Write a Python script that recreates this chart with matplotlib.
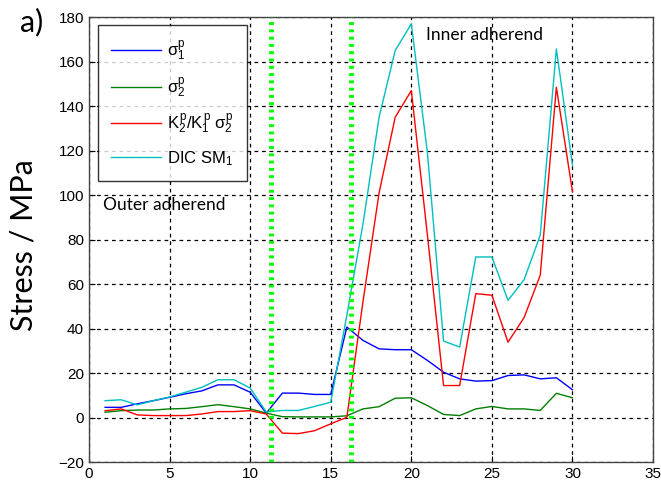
import numpy as np
import matplotlib
matplotlib.use("Agg")
import matplotlib.pyplot as plt

plt.rcParams['font.family'] = ['Liberation Sans', 'DejaVu Sans']
plt.rcParams['mathtext.fontset'] = 'custom'
plt.rcParams['mathtext.rm'] = 'Liberation Sans'
plt.rcParams['mathtext.it'] = 'Liberation Sans'
plt.rcParams['mathtext.bf'] = 'Liberation Sans:bold'

# -----------------------------
# Data
# -----------------------------
pos = np.arange(1, 31)

sigma1 = [4.6, 4.6, 6.2, 7.6, 9.1, 10.7, 12.0, 14.7, 14.7, 11.4,
          2.0, 11.0, 11.0, 10.4, 10.4, 40.7, 34.7, 30.9, 30.5, 30.5,
          25.7, 20.4, 17.4, 16.4, 16.6, 18.9, 19.2, 17.4, 17.9, 12.5]

sigma2 = [2.4, 3.1, 3.4, 3.4, 3.9, 4.1, 4.9, 5.8, 4.9, 3.9,
          2.0, 0.4, 0.3, 0.3, 0.3, 0.8, 3.9, 4.9, 8.7, 8.9,
          5.4, 1.4, 0.9, 3.9, 5.0, 3.9, 3.9, 3.2, 10.9, 8.9]

ratio = [3.1, 3.9, 1.2, 0.9, 0.9, 0.9, 1.6, 2.7, 2.7, 3.1,
         1.6, -7.0, -7.2, -5.9, -2.8, 0.1, 52.0, 101.0, 135.0, 147.0,
         82.0, 14.4, 14.4, 55.7, 55.0, 33.9, 45.0, 64.0, 148.5, 101.5]

dic = [7.6, 8.0, 5.7, 7.6, 9.3, 11.4, 13.6, 17.0, 17.0, 13.3,
       2.5, 3.2, 3.2, 5.0, 6.9, 46.0, 87.0, 135.0, 165.0, 177.0,
       119.0, 34.4, 31.7, 72.2, 72.2, 52.7, 62.0, 82.0, 165.7, 113.5]

boundaries = [11.3, 16.25]

# -----------------------------
# Plot
# -----------------------------
fig = plt.figure(figsize=(6.61, 4.90), dpi=100)
ax = fig.add_axes([0.1346, 0.057, 0.8534, 0.908])

ax.plot(pos, sigma1, color='#0000ff', lw=1.0, label=r'$\sigma_1^p$')
ax.plot(pos, sigma2, color='#008000', lw=1.0, label=r'$\sigma_2^p$')
ax.plot(pos, ratio, color='#ff0000', lw=1.0, label=r'$K_2^p/K_1^p\ \sigma_2^p$')
ax.plot(pos, dic, color='#00bfbf', lw=1.0, label=r'DIC SM$_1$')

for b in boundaries:
    ax.axvline(b, color='#00ff00', lw=3.5, ls=(0, (0.6, 0.9)), zorder=5)

ax.set_xlim(0, 35)
ax.set_ylim(-20, 180)
ax.set_xticks(np.arange(0, 36, 5))
ax.set_yticks(np.arange(-20, 181, 20))
ax.grid(True, color='black', ls=(0, (3, 3)), lw=0.9)
ax.tick_params(direction='in', labelsize=11, length=4, width=0.8)
for s in ax.spines.values():
    s.set_color('#444444')
    s.set_linewidth(1.0)

leg = ax.legend(loc='upper left', bbox_to_anchor=(0.016, 0.982), fontsize=12,
                frameon=True, fancybox=False, edgecolor='black',
                handlelength=3.0, handletextpad=0.35, borderpad=0.8,
                labelspacing=0.75, borderaxespad=0.0)
leg.get_frame().set_linewidth(1.0)

ax.text(0.85, 95.5, 'Outer adherend', family=['Lato', 'DejaVu Sans'],
        fontsize=12.5, va='center', ha='left')
ax.text(20.9, 172, 'Inner adherend', family=['Lato', 'DejaVu Sans'],
        fontsize=12.5, va='center', ha='left')

fig.text(0.035, 0.50, 'Stress / MPa', family=['Lato', 'DejaVu Sans'],
         fontsize=22, rotation=90, va='center', ha='center')
fig.text(0.03, 0.955, 'a)', family=['Lato', 'DejaVu Sans'],
         fontsize=22, va='center', ha='left')

fig.savefig('out.png', dpi=100)
